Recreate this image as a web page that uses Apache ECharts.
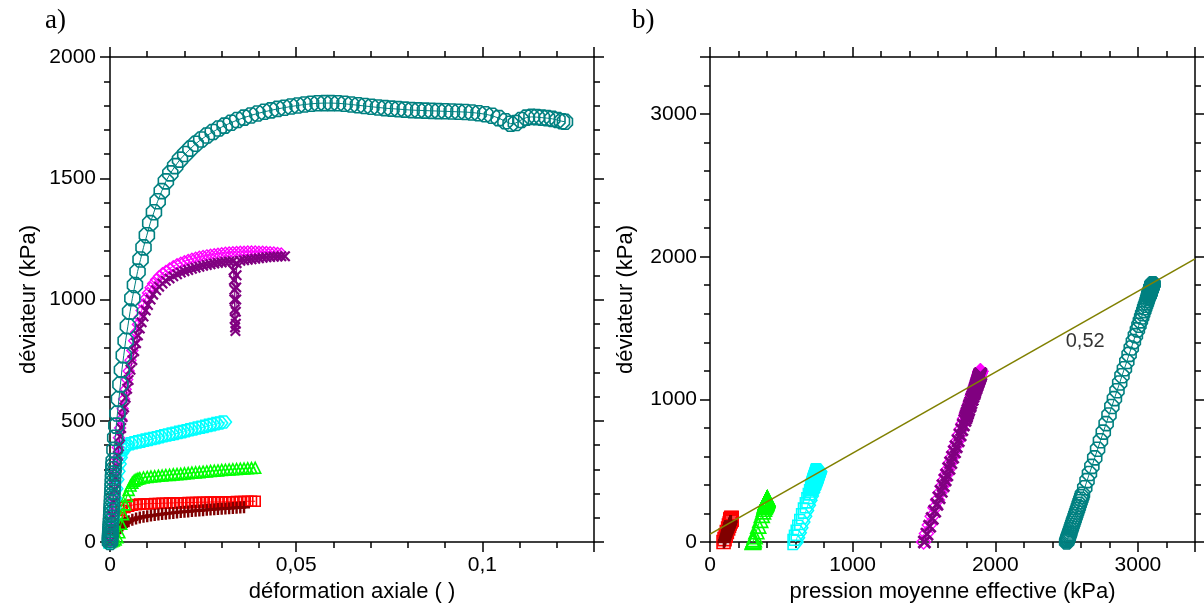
<!DOCTYPE html>
<html><head><meta charset="utf-8">
<script src="https://cdn.jsdelivr.net/npm/echarts@6/dist/echarts.min.js"></script>
<style>html,body{margin:0;padding:0;background:#fff}#c{width:1204px;height:610px}</style>
</head><body><div id="c"></div>
<script>
// ---------- DATA ----------
// panel a) : axial strain (-) vs deviator q (kPa); panel b) : p' (kPa) vs q (kPa)
const tealStrain = [0,0,0,0.00003,0.00006,0.0001,0.00013,0.00016,0.0002,0.00025,0.0003,0.00035,0.0004,
  0.00045,0.0005,0.00055,0.0006,0.00065,0.0007,0.00075,0.0008,0.00085,0.0009,0.00095,0.001,
  0.0012,0.0014,0.0017,0.002,
  0.0024,0.0028,0.0032,0.0037,0.0042,0.0048,0.0054,0.006,
  0.0067,0.0074,0.0082,0.009,0.0099,0.0108,0.0118,0.0128,0.0139,0.015,
  0.0162,0.0175,0.0188,0.0202,0.0216,0.023,0.0245,0.026,0.0276,0.0292,
  0.0308,0.0325,0.0342,0.036,0.0378,0.0396,0.0414,0.0432,0.045,0.0468,
  0.0486,0.0504,0.0522,0.054,0.0558,0.0576,0.0594,0.0612,0.063,0.0648,
  0.0666,0.0684,0.0702,0.072,0.0738,0.0756,0.0774,0.0792,0.081,0.0828,
  0.0846,0.0864,0.0882,0.09,0.0918,0.0936,0.0954,0.0972,0.099,0.1008,
  0.1026,0.1044,0.1062,0.1076,0.109,0.1104,0.1118,0.1132,0.1146,0.116,
  0.1174,0.1188,0.1202,0.1214,0.1222];
const tealQ = [0,8,16,24,32,40,50,60,70,85,100,115,130,
  145,160,177,193,210,228,246,264,282,300,317,334,
  380,430,480,530,
  590,650,710,770,830,890,950,1005,
  1060,1115,1165,1215,1265,1315,1360,1405,1447,1487,
  1520,1550,1577,1600,1622,1642,1660,1676,1691,1705,
  1717,1729,1740,1750,1759,1767,1774,1780,1786,1791,
  1796,1800,1804,1807,1809,1810,1810,1809,1807,1804,
  1801,1798,1795,1792,1789,1787,1785,1783,1781,1780,
  1779,1778,1777,1776,1775,1774,1773,1771,1768,1764,
  1758,1748,1735,1725,1728,1740,1750,1753,1752,1750,
  1748,1745,1740,1735,1733];
const tealP = [2500,2503,2505,2508,2511,2513,2517,2520,2523,2528,2533,2538,2543,
  2548,2553,2559,2564,2570,2576,2582,2588,2594,2600,2606,2611,
  2627,2643,2660,2677,
  2697,2717,2737,2757,2777,2797,2817,2835,
  2853,2872,2888,2905,2922,2938,2953,2968,2982,2996,
  3007,3017,3026,3033,3041,3047,3053,3059,3064,3068,
  3072,3076,3080,3083,3086,3089,3091,3093,3095,3097,
  3099,3100,3101,3102,3103,3103,3103,3103,3102,3101,
  3100,3099,3098,3097,3096,3096,3095,3094,3094,3093,
  3093,3093,3092,3092,3092,3091,3091,3090,3089,3088,
  3086,3083,3078,3075,3076,3080,3083,3084,3084,3083,
  3083,3082,3080,3078,3078];

const magStrain = [0,0.0003,0.0006,0.0009,0.0012,0.0015,0.0018,0.0021,0.0024,0.0027,0.003,
  0.0034,0.0038,0.0042,0.0046,0.005,
  0.0055,0.006,0.0065,0.007,0.0075,0.008,0.0085,0.009,
  0.0096,0.0102,0.0109,0.0116,0.0124,0.0132,0.0141,0.015,
  0.016,0.017,0.018,0.019,0.02,0.021,0.022,0.023,0.024,0.025,
  0.026,0.027,0.028,0.029,0.03,0.031,0.032,0.033,0.034,0.035,
  0.036,0.037,0.038,0.039,0.04,0.041,0.042,0.043,0.044,0.045,0.046];
const magQ = [0,60,120,180,240,295,345,390,430,470,505,
  550,590,630,670,705,
  750,790,830,865,897,927,955,980,
  1005,1027,1048,1066,1082,1096,1108,1118,
  1128,1137,1145,1152,1158,1163,1168,1172,1176,1179,
  1182,1185,1187,1189,1191,1193,1194,1195,1196,1197,
  1197,1198,1198,1198,1197,1197,1196,1195,1194,1192,1190];
const magP = [1497,1517,1537,1557,1577,1595,1612,1627,1640,1654,1665,
  1680,1694,1707,1720,1732,
  1747,1760,1774,1785,1796,1806,1815,1824,
  1832,1839,1846,1852,1858,1862,1866,1870,
  1873,1876,1879,1881,1883,1885,1886,1888,1889,1890,
  1891,1892,1893,1893,1894,1895,1895,1895,1896,1896,
  1896,1896,1896,1896,1896,1896,1896,1895,1895,1894,1894];

const purStrain = [0,0.0003,0.0006,0.0009,0.0012,0.0015,0.0018,0.0021,0.0024,0.0027,0.003,
  0.0034,0.0038,0.0042,0.0046,0.005,
  0.0055,0.006,0.0065,0.007,0.0075,0.008,0.0085,0.009,
  0.0096,0.0102,0.0109,0.0116,0.0124,0.0132,0.0141,0.015,
  0.016,0.017,0.018,0.019,0.02,0.021,0.022,0.023,0.024,0.025,0.026,0.027,0.028,0.029,0.03,0.031,0.032,0.033,
  0.0332,0.0333,0.0334,0.0334,0.0335,0.0335,0.0336,0.0337,0.0338,0.0338,0.0339,0.0339,0.034,0.034,
  0.035,0.036,0.037,0.038,0.039,0.04,0.041,0.042,0.043,0.044,0.045,0.046,0.047];
const purQ = [0,55,110,165,215,265,310,355,395,435,470,
  515,555,595,632,668,
  710,750,787,820,852,880,906,930,
  955,977,1000,1020,1038,1053,1066,1077,
  1087,1096,1104,1111,1117,1122,1127,1131,1135,1139,1142,1145,1148,1151,1153,1155,1157,1158,
  1120,1080,1040,1000,960,920,885,870,900,950,1000,1050,1100,1150,
  1160,1162,1164,1166,1168,1170,1172,1174,1175,1176,1177,1178,1178];
const purP = [1503,1521,1540,1558,1575,1591,1606,1621,1635,1648,1660,
  1675,1688,1701,1714,1726,
  1740,1753,1765,1776,1787,1796,1805,1813,
  1821,1829,1836,1843,1849,1854,1858,1862,
  1865,1868,1871,1873,1875,1877,1879,1880,1881,1883,1884,1885,1886,1887,1887,1888,1889,1889,
  1876,1863,1850,1836,1823,1810,1798,1793,1803,1820,1836,1853,1870,1886,
  1890,1890,1891,1892,1892,1893,1894,1894,1895,1895,1895,1896,1896];

const cyanStrain = [0,0.0003,0.0006,0.0009,0.0012,0.0015,0.0018,0.0021,0.0024,0.0027,0.003,
  0.0034,0.0038,0.0042,0.0046,0.005,0.006,0.007,
  0.008,0.009,0.01,0.011,0.012,0.013,0.014,0.015,0.016,0.017,0.018,0.019,
  0.02,0.021,0.022,0.023,0.024,0.025,0.026,0.027,0.028,0.029,0.03,0.031];
const cyanQ = [0,30,65,100,140,180,220,258,292,322,348,
  368,380,388,395,400,405,409,
  413,416,420,423,427,430,434,438,441,445,448,452,
  455,459,463,466,470,473,477,481,484,488,491,495];
const cyanP = [600,610,622,633,647,660,673,686,697,707,716,
  723,727,729,732,733,735,736,
  738,739,740,741,742,743,745,746,747,748,749,751,
  752,753,754,755,757,758,759,760,761,763,764,765];

const greenStrain = [0,0.0005,0.001,0.0015,0.002,0.0025,0.003,0.0035,0.004,0.0045,0.005,0.0055,0.006,0.0065,0.007,0.0075,0.008,
  0.009,0.01,0.011,0.012,0.013,0.014,0.015,0.016,0.017,0.018,0.019,0.02,0.021,0.022,0.023,0.024,
  0.025,0.026,0.027,0.028,0.029,0.03,0.031,0.032,0.033,0.034,0.035,0.036,0.037,0.038,0.039];
const greenQ = [0,3,6,11,20,40,75,115,155,190,215,233,245,253,258,261,263,
  266,268,270,271,273,274,276,277,279,280,281,283,284,286,287,288,
  290,291,293,294,295,297,298,299,300,301,302,303,304,305,306];
const greenP = [300,301,302,304,307,313,325,338,352,363,372,378,382,384,386,387,388,
  389,389,390,390,391,391,392,392,393,393,394,394,395,395,396,396,
  397,397,398,398,398,399,399,400,400,400,401,401,401,402,402];

const redStrain = [0,0.0005,0.001,0.0015,0.002,0.0025,0.003,0.004,0.005,0.006,0.007,0.008,
  0.009,0.01,0.011,0.012,0.013,0.014,0.015,0.016,0.017,0.018,0.019,0.02,0.021,0.022,0.023,0.024,
  0.025,0.026,0.027,0.028,0.029,0.03,0.031,0.032,0.033,0.034,0.035,0.036,0.037,0.038,0.039];
const redQ = [0,20,45,70,95,115,130,142,148,152,154,156,
  157,158,158,159,159,160,160,161,161,162,162,162,163,163,163,164,
  164,164,165,165,165,165,166,166,166,167,167,167,168,168,168];
const redP = [95,102,110,118,127,133,138,142,144,146,146,147,
  147,148,148,148,148,148,148,149,149,149,149,149,149,149,149,150,
  150,150,150,150,150,150,150,150,150,151,151,151,151,151,151];

const dredStrain = [0,0.0005,0.001,0.0015,0.002,0.0025,0.003,0.0035,0.004,0.0045,0.005,0.006,0.007,0.008,
  0.009,0.01,0.011,0.012,0.013,0.014,0.015,0.016,0.017,0.018,0.019,0.02,0.021,0.022,
  0.023,0.024,0.025,0.026,0.027,0.028,0.029,0.03,0.031,0.032,0.033,0.034,0.035,0.036];
const dredQ = [0,12,25,37,48,58,66,73,78,82,86,92,97,101,
  104,106,109,111,113,115,117,119,120,122,124,125,126,128,
  129,130,131,133,134,135,136,137,138,139,140,141,142,143];
const dredP = [98,102,106,110,114,117,120,122,124,125,127,129,130,132,
  133,133,134,135,136,136,137,138,138,139,139,140,140,141,
  141,141,142,142,143,143,143,144,144,144,145,145,145,146];

// stress ratio line in panel b) and its annotation
const ratioLineP = [0, 3400];
const ratioLineQ = [55, 1985];
const ratioLabelText = '0,52';
const ratioLabelP = 2630;
const ratioLabelQ = 1405;

// axis settings (tick values)
const strainMax = 0.13, strainMajor = 0.05, strainMinor = 0.01;
const qMaxA = 2000, qMajorA = 500, qMinorA = 100;
const pMaxB = 3400, pMajorB = 1000, pMinorB = 200;
const qMaxB = 3400, qMajorB = 1000, qMinorB = 200;

// ---------- CHART ----------
const FONT = "'Liberation Sans', Arial, sans-serif";
const OCT = 'path://M31,4L69,4L96,31L96,69L69,96L31,96L4,69L4,31Z';
const XS = 'path://M0,14L14,0L50,36L86,0L100,14L64,50L100,86L86,100L50,64L14,100L0,86L36,50Z';
const PLUS = 'path://M40,0L60,0L60,40L100,40L100,60L60,60L60,100L40,100L40,60L0,60L0,40L40,40Z';
const PENT = 'path://M0,0L60,0L100,50L60,100L0,100Z';

// sizeA: marker size in panel a), sizeB: in panel b)
const styles = {
  teal:   {color:'#008080', symbol:OCT, sizeA:15, sizeB:14, hollow:true, bw:1.6, z:9},
  mag:    {color:'#ff00ff', symbol:'diamond', sizeA:11, sizeB:14, hollow:true, bw:1.4, z:6},
  pur:    {color:'#800080', symbol:XS, sizeA:11, sizeB:14, hollow:false, z:7},
  cyan:   {color:'#00ffff', symbol:PENT, sizeA:12, sizeB:15, hollow:true, bw:1.6, z:5},
  green:  {color:'#00ff00', symbol:'triangle', sizeA:11, sizeB:15, hollow:true, bw:1.6, z:4},
  red:    {color:'#ff0000', symbol:'rect', sizeA:10, sizeB:13, hollow:true, bw:1.6, z:2},
  dred:   {color:'#800000', symbol:PLUS, sizeA:12, sizeB:13, hollow:false, z:3}
};

function mk(xs, ys, st, xi, yi, size) {
  return {
    type:'line', xAxisIndex:xi, yAxisIndex:yi,
    data: xs.map((x,i)=>[x, ys[i]]),
    symbol: st.symbol, symbolSize: size, symbolKeepAspect:true,
    showSymbol:true, clip:false, animation:false, silent:true,
    lineStyle:{color:st.color, width:1},
    itemStyle: st.hollow ? {color:'rgba(0,0,0,0)', borderColor:st.color, borderWidth:st.bw}
                         : {color:st.color, borderWidth:0},
    z: st.z
  };
}

function axis(grid, pos, max, interval, o) {
  o = o || {};
  const major = !o.minor;
  return {
    type:'value', gridIndex:grid, position:pos, min:0, max:max, interval:interval,
    axisLine:{show: major, onZero:false, lineStyle:{color:'#000', width:1.5}},
    axisTick:{show:true, inside:false, length: major ? 10 : 6, lineStyle:{color:'#000', width:1.5}},
    axisLabel:{show: !!o.labels, showMinLabel:true, showMaxLabel:true, margin: o.margin || 13, color:'#000',
      fontFamily:FONT, fontSize:21,
      formatter: v => {
        const r = v / interval;
        if (Math.abs(r - Math.round(r)) > 1e-6) return '';
        return String(+v.toFixed(6)).replace('.', ',');
      }},
    splitLine:{show:false},
    name: o.name || '', nameLocation:'middle', nameGap: o.nameGap || 0,
    nameRotate: o.nameRotate || 0,
    nameTextStyle:{fontFamily:FONT, fontSize:22, color:'#000'}
  };
}

const gA = {left:110, top:57, width:484, height:485};
const gB = {left:710, top:57, width:485, height:485};

const option = {
  backgroundColor:'#fff',
  animation:false,
  grid:[Object.assign({}, gA), Object.assign({}, gA), Object.assign({}, gB), Object.assign({}, gB)],
  xAxis:[
    axis(0,'bottom',strainMax,strainMajor,{labels:true, name:'déformation axiale ( )', nameGap:38}),
    axis(0,'top',strainMax,strainMajor),
    axis(1,'bottom',strainMax,strainMinor,{minor:true}),
    axis(1,'top',strainMax,strainMinor,{minor:true}),
    axis(2,'bottom',pMaxB,pMajorB,{labels:true, name:'pression moyenne effective (kPa)', nameGap:38}),
    axis(2,'top',pMaxB,pMajorB),
    axis(3,'bottom',pMaxB,pMinorB,{minor:true}),
    axis(3,'top',pMaxB,pMinorB,{minor:true})
  ],
  yAxis:[
    axis(0,'left',qMaxA,qMajorA,{labels:true, margin:14, name:'déviateur (kPa)', nameGap:70, nameRotate:90}),
    axis(0,'right',qMaxA,qMajorA),
    axis(1,'left',qMaxA,qMinorA,{minor:true}),
    axis(1,'right',qMaxA,qMinorA,{minor:true}),
    axis(2,'left',qMaxB,qMajorB,{labels:true, margin:13, name:'déviateur (kPa)', nameGap:73, nameRotate:90}),
    axis(2,'right',qMaxB,qMajorB),
    axis(3,'left',qMaxB,qMinorB,{minor:true}),
    axis(3,'right',qMaxB,qMinorB,{minor:true})
  ],
  graphic:[
    {type:'text', left:45, top:7, style:{text:'a)', font:"27px 'Liberation Serif', 'Times New Roman', serif", fill:'#000'}},
    {type:'text', left:632, top:7, style:{text:'b)', font:"27px 'Liberation Serif', 'Times New Roman', serif", fill:'#000'}}
  ],
  series:[
    mk(redStrain, redQ, styles.red, 0, 0, styles.red.sizeA),
    mk(dredStrain, dredQ, styles.dred, 0, 0, styles.dred.sizeA),
    mk(greenStrain, greenQ, styles.green, 0, 0, styles.green.sizeA),
    mk(cyanStrain, cyanQ, styles.cyan, 0, 0, styles.cyan.sizeA),
    mk(magStrain, magQ, styles.mag, 0, 0, styles.mag.sizeA),
    mk(purStrain, purQ, styles.pur, 0, 0, styles.pur.sizeA),
    mk(tealStrain, tealQ, styles.teal, 0, 0, styles.teal.sizeA),

    mk(redP, redQ, styles.red, 4, 4, styles.red.sizeB),
    mk(dredP, dredQ, styles.dred, 4, 4, styles.dred.sizeB),
    mk(greenP, greenQ, styles.green, 4, 4, styles.green.sizeB),
    mk(cyanP, cyanQ, styles.cyan, 4, 4, styles.cyan.sizeB),
    mk(magP, magQ, styles.mag, 4, 4, styles.mag.sizeB),
    mk(purP, purQ, styles.pur, 4, 4, styles.pur.sizeB),
    mk(tealP, tealQ, styles.teal, 4, 4, styles.teal.sizeB),
    {
      type:'line', xAxisIndex:4, yAxisIndex:4, silent:true, animation:false,
      data: ratioLineP.map((p,i)=>[p, ratioLineQ[i]]),
      showSymbol:false, lineStyle:{color:'#808000', width:1.6}, z:20
    },
    {
      type:'scatter', xAxisIndex:4, yAxisIndex:4, silent:true, animation:false,
      symbolSize:1, itemStyle:{color:'rgba(0,0,0,0)'},
      data:[{name:ratioLabelText, value:[ratioLabelP, ratioLabelQ]}],
      label:{show:true, position:'inside', formatter:'{b}', fontFamily:FONT, fontSize:20, color:'#000'},
      z:21
    }
  ]
};

const chart = echarts.init(document.getElementById('c'), null, {renderer:'canvas'});
chart.setOption(option);
</script></body></html>
